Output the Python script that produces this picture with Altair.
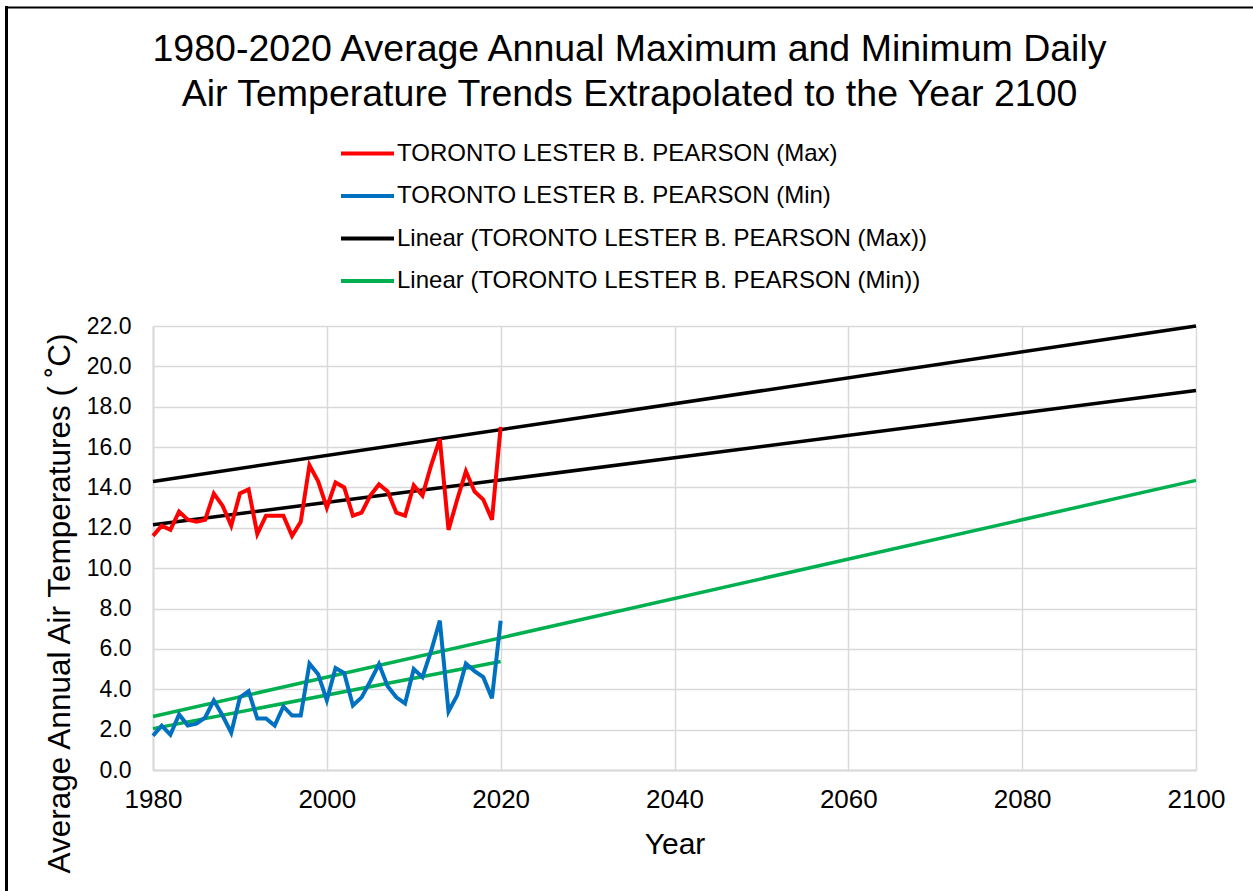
import altair as alt
import pandas as pd

years = list(range(1980, 2021))
tmax = [11.6, 12.1, 11.9, 12.8, 12.4, 12.3, 12.4, 13.7, 13.1, 12.1,
        13.7, 13.9, 11.7, 12.6, 12.6, 12.6, 11.6, 12.3, 15.1, 14.3,
        13.0, 14.25, 14.0, 12.6, 12.75, 13.6, 14.15, 13.8, 12.75, 12.6,
        14.1, 13.6, 15.1, 16.4, 11.9, 13.4, 14.8, 13.8, 13.4, 12.4, 17.0]
tmin = [1.7, 2.2, 1.75, 2.75, 2.2, 2.3, 2.6, 3.45, 2.7, 1.85,
        3.6, 3.9, 2.55, 2.55, 2.2, 3.15, 2.7, 2.7, 5.27, 4.75,
        3.45, 5.05, 4.8, 3.2, 3.6, 4.4, 5.25, 4.15, 3.6, 3.3,
        5.0, 4.6, 5.9, 7.4, 2.9, 3.7, 5.27, 4.9, 4.6, 3.55, 7.4]

# trend lines (two end points each)
trend_id = ["maxA", "maxA", "maxB", "maxB", "minA", "minA", "minB", "minB"]
trend_series = ["Linear (TORONTO LESTER B. PEARSON (Max))"] * 4 + \
               ["Linear (TORONTO LESTER B. PEARSON (Min))"] * 4
trend_year = [1980, 2100, 1980, 2100, 1980, 2100, 1980, 2020]
trend_val = [14.3, 22.0, 12.15, 18.8, 2.65, 14.35, 2.05, 5.38]

series_names = ["TORONTO LESTER B. PEARSON (Max)",
                "TORONTO LESTER B. PEARSON (Min)",
                "Linear (TORONTO LESTER B. PEARSON (Max))",
                "Linear (TORONTO LESTER B. PEARSON (Min))"]
series_colors = ["#FF0000", "#0070C0", "#000000", "#00B050"]

title_lines = ["1980-2020 Average Annual Maximum and Minimum Daily",
               "Air Temperature Trends Extrapolated to the Year 2100"]

data_df = pd.DataFrame({
    "year": years * 2,
    "value": tmax + tmin,
    "series": [series_names[0]] * len(years) + [series_names[1]] * len(years),
    "lid": ["max"] * len(years) + ["min"] * len(years),
})
trend_df = pd.DataFrame({"year": trend_year, "value": trend_val,
                         "series": trend_series, "lid": trend_id})

FONT = "Liberation Sans"

x_enc = alt.X("year:Q",
              scale=alt.Scale(domain=[1980, 2100], nice=False, zero=False),
              axis=alt.Axis(values=list(range(1980, 2101, 20)), format="d",
                            title="Year", titleFontSize=30, titleFont=FONT,
                            titleFontWeight="normal", titleColor="#000000",
                            titleY=83, titleBaseline="alphabetic",
                            labelFontSize=26, labelFont=FONT, labelColor="#000000",
                            labelPadding=16, labelFlush=False, ticks=False,
                            domainColor="#d9d9d9", domainWidth=2,
                            gridColor="#d9d9d9", gridWidth=1.5))
y_enc = alt.Y("value:Q",
              scale=alt.Scale(domain=[0, 22], nice=False),
              axis=alt.Axis(values=list(range(0, 23, 2)), format=".1f",
                            title="Average  Annual  Air  Temperatures  ( ˚C)",
                            titleFontSize=31.5, titleFont=FONT,
                            titleFontWeight="normal", titleColor="#000000",
                            titleAngle=270, titleAlign="center",
                            titleBaseline="alphabetic", titleX=-84, titleY=277,
                            labelFontSize=23, labelFont=FONT, labelColor="#000000",
                            labelPadding=22, labelFlush=False, ticks=False,
                            domainColor="#d9d9d9", domainWidth=2,
                            gridColor="#d9d9d9", gridWidth=1.5))
color_enc = alt.Color("series:N",
                      scale=alt.Scale(domain=series_names, range=series_colors),
                      legend=alt.Legend(orient="none", legendX=186, legendY=-201,
                                        title=None, direction="vertical",
                                        symbolType="stroke", symbolSize=2809,
                                        symbolStrokeWidth=4, labelFontSize=24,
                                        labelFont=FONT, labelColor="#000000",
                                        labelOffset=1, rowPadding=1.5,
                                        padding=0, labelLimit=800))

data_layer = alt.Chart(data_df).mark_line(strokeWidth=4).encode(
    x=x_enc, y=y_enc, color=color_enc, detail="lid:N")
trend_layer = alt.Chart(trend_df).mark_line(strokeWidth=3.5).encode(
    x=x_enc, y=y_enc, color=color_enc, detail="lid:N")

frame_df = pd.DataFrame({"k": [0]})
left_border = alt.Chart(frame_df).mark_rule(color="#000000", strokeWidth=3).encode(
    x=alt.value(-146.5), y=alt.value(-320), y2=alt.value(570))
top_border = alt.Chart(frame_df).mark_rule(color="#000000", strokeWidth=2).encode(
    x=alt.value(-148), x2=alt.value(1110), y=alt.value(-318.5))

chart = alt.layer(trend_layer, data_layer, left_border, top_border).properties(
    width=1043, height=444,
    title=alt.TitleParams(text=title_lines, fontSize=37.5, font=FONT,
                          fontWeight="normal", color="#000000",
                          anchor="middle", frame="group", dx=-45,
                          baseline="alphabetic", lineHeight=45, offset=-139),
    autosize=alt.AutoSizeParams(type="none"),
    padding={"left": 153, "top": 326, "right": 57, "bottom": 121},
).configure_view(stroke=None).configure(background="white")

chart.save("out.html", embed_options={"renderer": "svg", "actions": False})
